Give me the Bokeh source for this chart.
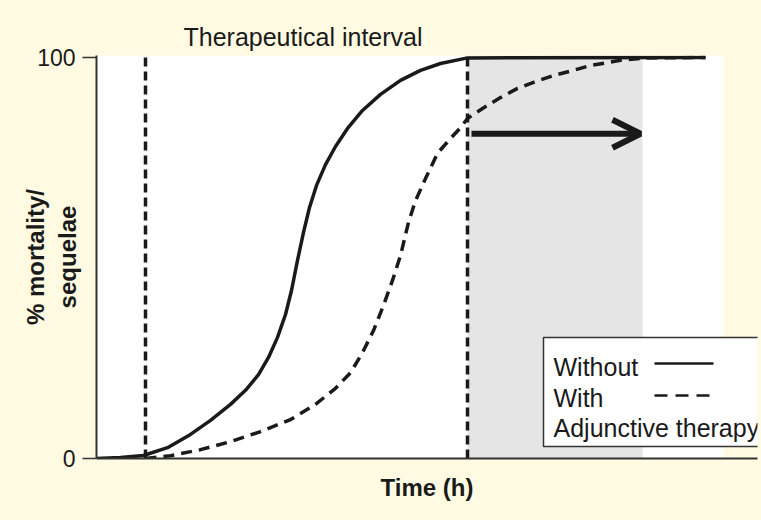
from bokeh.plotting import figure
from bokeh.models import Range1d, FixedTicker, Label, Arrow, OpenHead
from bokeh.embed import file_html
from bokeh.resources import INLINE

# ---------------- data (time in arbitrary hours) ----------------
time_without = [0, 0.48, 0.94, 1.42, 1.88, 2.28, 2.68, 2.98, 3.24, 3.44, 3.62, 3.78, 3.90,
                4.02, 4.14, 4.26, 4.40, 4.58, 4.78, 5.02, 5.32, 5.68, 6.08, 6.48, 6.88, 7.42, 12.18]
pct_without = [0, 0.25, 0.75, 2.7, 6.0, 9.5, 13.5, 17.0, 20.9, 25.2, 30.2, 35.9, 41.9,
               49.4, 56.4, 62.6, 68.1, 73.3, 77.8, 82.3, 86.8, 90.8, 94.3, 96.8, 98.5, 99.9, 100]

time_with = [0.98, 1.48, 2.08, 2.68, 3.28, 3.88, 4.38, 4.78, 5.08, 5.32, 5.54, 5.74, 5.92,
             6.08, 6.24, 6.38, 6.58, 6.82, 7.08, 7.28, 7.42, 7.72, 8.08, 8.42, 8.74, 9.14,
             9.54, 9.88, 10.48, 10.98, 12.18]
pct_with = [0, 0.7, 2.2, 4.2, 6.7, 9.7, 13.5, 17.5, 21.4, 26.4, 31.9, 38.2, 44.4,
            50.6, 58.9, 64.3, 69.8, 76.1, 79.8, 82.5, 84.8, 87.3, 90.0, 92.3, 93.8, 95.5,
            96.8, 98.0, 99.3, 99.9, 100]

interval_times = [0.98, 7.42]        # therapeutic interval limits
extended_window = [7.42, 10.92]      # window gained with adjunctive therapy
arrow_span = [7.50, 10.88]
arrow_level = 81

y_ticks = [0, 100]
title_text = "Therapeutical interval"
x_label = "Time (h)"
y_label = "% mortality/\nsequelae"
legend_labels = ["Without", "With", "Adjunctive therapy"]

# ---------------- styling / layout ----------------
CREAM = "#FFFAE1"
SHADE = "#E5E5E5"
INK = "#1a1a1a"
FONT = "Liberation Sans"
PLOT_RIGHT = 12.54
Y_TOP = 100.5

p = figure(width=761, height=520, output_backend="svg", toolbar_location=None,
           x_range=Range1d(0, 13.22), y_range=Range1d(0, Y_TOP),
           min_border_left=96, min_border_right=4, min_border_top=55, min_border_bottom=62)
p.border_fill_color = CREAM
p.background_fill_color = CREAM
p.outline_line_color = None
p.grid.visible = False

# title
p.title.text = title_text
p.title.align = "left"
p.title.offset = 87
p.title.standoff = 10
p.title.text_font = FONT
p.title.text_font_size = "25px"
p.title.text_font_style = "normal"
p.title.text_color = INK

# white plotting area and shaded window
p.quad(left=0, right=PLOT_RIGHT, bottom=0, top=Y_TOP, fill_color="white", line_color=None)
p.quad(left=extended_window[0], right=extended_window[1], bottom=0, top=Y_TOP,
       fill_color=SHADE, line_color=None)

# therapeutic interval markers
p.segment(x0=interval_times, y0=[0, 0], x1=interval_times, y1=[100, 100],
          line_color=INK, line_width=3.5, line_dash="9 5")

# curves
p.line(time_without, pct_without, line_color=INK, line_width=3.5)
p.line(time_with, pct_with, line_color=INK, line_width=3.5, line_dash="11 7")

# arrow
p.add_layout(Arrow(end=OpenHead(size=28, line_width=6, line_color=INK),
                   x_start=arrow_span[0], y_start=arrow_level,
                   x_end=arrow_span[1], y_end=arrow_level,
                   line_width=6, line_color=INK))

# legend box (custom: samples on the right of the text)
p.quad(left=8.94, right=13.6, bottom=3.0, top=30.2, fill_color="white",
       line_color="#333333", line_width=1.5)
for lab, yb in zip(legend_labels, [22.9, 15.2, 7.5]):
    p.add_layout(Label(x=9.14, y=yb, text=lab, text_font=FONT, text_font_size="25px",
                       text_color=INK, text_baseline="alphabetic", text_align="left"))
p.line([11.16, 12.34], [23.7, 23.7], line_color=INK, line_width=2.5)
p.line([11.16, 12.28], [15.7, 15.7], line_color=INK, line_width=2.5, line_dash="13 8")

# axes
p.yaxis.ticker = FixedTicker(ticks=y_ticks)
p.yaxis.major_tick_out = 14
p.yaxis.major_tick_in = 0
p.yaxis.minor_tick_line_color = None
p.yaxis.major_label_standoff = 7
p.yaxis.major_label_text_font = FONT
p.yaxis.major_label_text_font_size = "23px"
p.yaxis.major_label_text_color = INK
p.yaxis.major_tick_line_color = "#333333"
p.yaxis.major_tick_line_width = 1.5
p.yaxis.axis_label = y_label
p.yaxis.axis_label_text_font = FONT
p.yaxis.axis_label_text_font_size = "24px"
p.yaxis.axis_label_text_font_style = "bold"
p.yaxis.axis_label_text_color = INK
p.yaxis.axis_label_standoff = -47

p.xaxis.ticker = FixedTicker(ticks=[])
p.xaxis.major_tick_line_color = None
p.xaxis.minor_tick_line_color = None
p.xaxis.axis_label = x_label
p.xaxis.axis_label_text_font = FONT
p.xaxis.axis_label_text_font_size = "24px"
p.xaxis.axis_label_text_font_style = "bold"
p.xaxis.axis_label_text_color = INK
p.xaxis.axis_label_standoff = 15
for ax in (p.xaxis, p.yaxis):
    ax.axis_line_color = "#333333"
    ax.axis_line_width = 2

html = file_html(p, INLINE)
html = html.replace("</head>", "<style>html, body { background: %s; }</style></head>" % CREAM, 1)
open("out.html", "w").write(html)
